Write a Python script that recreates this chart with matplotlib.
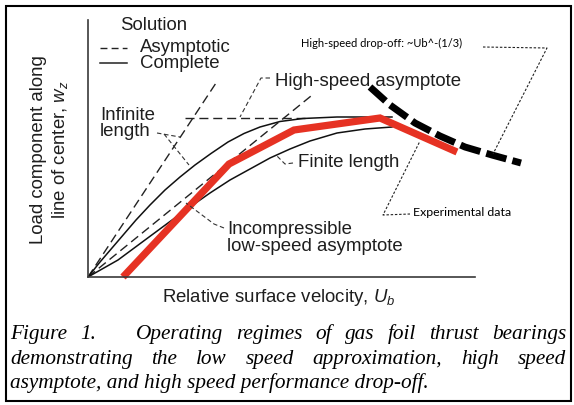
import matplotlib.pyplot as plt
from matplotlib.patches import Rectangle

plt.rcParams['font.family'] = 'Liberation Sans'
plt.rcParams['mathtext.fontset'] = 'custom'
plt.rcParams['mathtext.rm'] = 'Liberation Sans'
plt.rcParams['mathtext.it'] = 'Liberation Sans:italic'

# schematic curves, axis units (relative velocity, load)
inf_u = [0, 12, 24, 36, 48, 62, 77, 92, 107, 123, 140, 156, 172, 192, 215, 249, 282, 304]
inf_w = [0, 15, 29, 43, 57, 72, 87, 100, 112, 123.5, 135, 143.5, 150, 155.5, 158.5, 160, 160, 160]

fin_u = [0, 30, 57, 80, 102, 122, 142, 162, 182, 202, 222, 249, 277, 304]
fin_w = [0, 17, 37, 54, 70, 84, 97, 108, 119, 128, 136, 144, 148, 150]

inf_asym_u = [0, 130]
inf_asym_w = [0, 197]
inc_asym_u = [0, 223]
inc_asym_w = [0, 181]
hs_asym_u = [97, 217]
hs_asym_w = [159.5, 159.5]

exp_u = [35, 141, 206, 292, 369]
exp_w = [0, 113, 147, 159, 125]

drop_u = [282, 302, 327, 352, 377, 404, 433]
drop_w = [190, 172, 154, 141, 130, 122, 114]

caption_lines = [
    "Figure 1.   Operating regimes of gas foil thrust bearings",
    "demonstrating the low speed approximation, high speed",
    "asymptote, and high speed performance drop-off.",
]

W, H = 574, 405
TXT = '#1e1e1e'
fig = plt.figure(figsize=(W / 100, H / 100), dpi=100)
ax = fig.add_axes([88 / W, 1 - 277 / H, 387 / W, 257 / H])
ax.set_xlim(0, 387)
ax.set_ylim(0, 257)
ax.set_xticks([])
ax.set_yticks([])
for s in ['top', 'right']:
    ax.spines[s].set_visible(False)
for s in ['left', 'bottom']:
    ax.spines[s].set_color('#3a3a3a')
    ax.spines[s].set_linewidth(1.2)

dash = (6.5, 3.5)
ax.plot(inf_asym_u, inf_asym_w, color='#222', lw=1.0, dashes=dash)
ax.plot(inc_asym_u, inc_asym_w, color='#222', lw=1.0, dashes=dash)
ax.plot(hs_asym_u, hs_asym_w, color='#222', lw=1.0, dashes=dash)
ax.plot(inf_u, inf_w, color='#111', lw=1.1)
ax.plot(fin_u, fin_w, color='#111', lw=1.1)
ax.plot(exp_u, exp_w, color='#e63223', lw=5.2, solid_capstyle='butt',
        solid_joinstyle='miter', clip_on=False)
ax.plot(drop_u, drop_w, color='black', lw=5.0, dashes=(3.0, 0.9), clip_on=False)

# legend
fs = 13.4
ax.text(32, 251, "Solution", fontsize=fs, color=TXT, va='center')
ax.plot([12, 39], [229, 229], color='#222', lw=1.0, dashes=(5, 3))
ax.text(52, 230, "Asymptotic", fontsize=fs, color=TXT, va='center')
ax.plot([12, 39], [214, 214], color='#222', lw=1.1)
ax.text(52, 214, "Complete", fontsize=fs, color=TXT, va='center')

# labels with leaders
lead = dict(color='#333', lw=0.8, dashes=(4, 2.5), clip_on=False)
ax.text(12, 161, "Infinite", fontsize=fs, color=TXT, va='center')
ax.text(12, 145, "length", fontsize=fs, color=TXT, va='center')
ax.plot([69, 92], [144, 140], **lead)
ax.plot([76, 101], [143, 112], **lead)

ax.text(187, 196, "High-speed asymptote", fontsize=fs, color=TXT, va='center')
ax.plot([182, 173, 152], [199, 199, 160], **lead)

ax.text(210, 114, "Finite length", fontsize=fs, color=TXT, va='center')
ax.plot([205, 197, 189], [114, 113, 121], **lead)

ax.text(139, 47, "Incompressible", fontsize=fs, color=TXT, va='center')
ax.text(139, 30, "low-speed asymptote", fontsize=fs, color=TXT, va='center')
ax.plot([136, 126, 98], [49, 53, 74], **lead)

small = dict(family='Lato', color='black', va='center', clip_on=False)
dot = dict(color='#222', lw=0.8, dashes=(2.2, 1.6), clip_on=False)
ax.text(213, 234, "High-speed drop-off: ~Ub^-(1/3)", fontsize=8.0, **small)
ax.plot([395, 459, 405], [230, 229, 123], **dot)
ax.text(325, 64, "Experimental data", fontsize=8.9, **small)
ax.plot([322, 295, 332], [63, 62, 136], **dot)

ax.set_xlabel("Relative surface velocity, $U_b$", fontsize=fs, color=TXT, va='center')
ax.xaxis.set_label_coords(190.5 / 387, -21 / 257)
ax.set_ylabel("Load component along\nline of center, $w_z$", fontsize=fs, color=TXT,
              va='center', linespacing=1.25)
ax.yaxis.set_label_coords(-38 / 387, 127 / 257)

# border
fig.add_artist(Rectangle((6 / W, 1 - 401 / H), 565 / W, 395 / H, transform=fig.transFigure,
                         fill=False, lw=1.5, edgecolor='black'))

# justified caption
cap = dict(family='Liberation Serif', style='italic', fontsize=15.3, color='black', va='baseline')
renderer = fig.canvas.get_renderer()
left, right = 10, 566
for i, (line, base) in enumerate(zip(caption_lines, [339, 364, 388])):
    y = 1 - base / H
    if i == len(caption_lines) - 1:
        fig.text(left / W, y, line, **cap)
        continue
    words = line.split(" ")
    arts, widths = [], []
    for w in words:
        if w:
            t = fig.text(0, y, w, **cap)
            arts.append(t)
            widths.append(t.get_window_extent(renderer).width)
        else:
            arts.append(None)
            widths.append(0)
    gap = (right - left - sum(widths)) / (len(words) - 1)
    x = left
    for t, wd in zip(arts, widths):
        if t is not None:
            t.set_x(x / W)
        x += wd + gap

fig.savefig("out.png", dpi=100)
